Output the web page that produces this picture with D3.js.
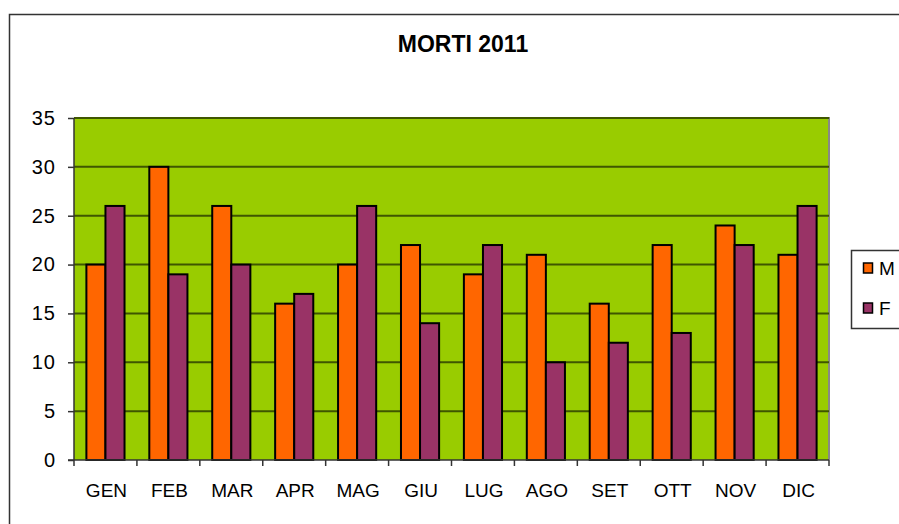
<!DOCTYPE html>
<html><head><meta charset="utf-8">
<script src="https://cdn.jsdelivr.net/npm/d3@7"></script>
<style>body{margin:0;background:#fff;}svg{display:block;font-family:Arial,"Liberation Sans",sans-serif;}</style>
</head><body>
<script>
const categories = ["GEN","FEB","MAR","APR","MAG","GIU","LUG","AGO","SET","OTT","NOV","DIC"];
const seriesNames = ["M","F"];
const valuesM = [20,30,26,16,20,22,19,21,16,22,24,21];
const valuesF = [26,19,20,17,26,14,22,10,12,13,22,26];
const yTicks = [0,5,10,15,20,25,30,35];
const title = "MORTI 2011";
const colors = {M:"#FF6600", F:"#993366"};

const W = 899, H = 524;
const svg = d3.select("body").append("svg").attr("width", W).attr("height", H);

// outer chart border
svg.append("path").attr("d","M9.5,530 V14.5 H905").attr("fill","none").attr("stroke","#333").attr("stroke-width",1.5);

const L = 74, R = 829, T = 118, B = 460;
const x = d3.scaleBand().domain(categories).range([L, R]).paddingInner(0).paddingOuter(0);
const y = d3.scaleLinear().domain([0,35]).range([B, T]);

// plot area
svg.append("rect").attr("x",L).attr("y",T).attr("width",R-L).attr("height",B-T).attr("fill","#99CC00");
svg.append("path").attr("d",`M${L},${T} H${R} V${B}`).attr("fill","none").attr("stroke","#888").attr("stroke-width",2);

// gridlines
svg.append("g").selectAll("line").data(yTicks.filter(d=>d>0)).join("line")
  .attr("x1",L).attr("x2",R).attr("y1",d=>y(d)).attr("y2",d=>y(d))
  .attr("stroke","#3f5600").attr("stroke-width",2);

// bars
const data = categories.map((c,i)=>({cat:c, M:valuesM[i], F:valuesF[i]}));
const bw = x.bandwidth()/3.3;
const x1 = d3.scaleBand().domain(seriesNames).range([0, 2*bw]);
const off = (x.bandwidth()-2*bw)/2;
const g = svg.append("g");
data.forEach(d=>{
  seriesNames.forEach(s=>{
    g.append("rect")
      .attr("x", x(d.cat)+off+x1(s))
      .attr("y", y(d[s]))
      .attr("width", x1.bandwidth())
      .attr("height", y(0)-y(d[s]))
      .attr("fill", colors[s]).attr("stroke","#000").attr("stroke-width",2);
  });
});

// y axis
const yAxis = d3.axisLeft(y).tickValues(yTicks).tickSize(6).tickPadding(12);
const ya = svg.append("g").attr("transform",`translate(${L},0)`).call(yAxis);
ya.select(".domain").attr("stroke","#333").attr("stroke-width",1.5).attr("d",`M-0,${T}V${B}`);
ya.selectAll(".tick line").attr("stroke","#333").attr("stroke-width",1.5);
ya.selectAll("text").attr("font-size",20).attr("letter-spacing","1px").attr("fill","#000")
  .attr("font-family","Arial, 'Liberation Sans', sans-serif");

// x axis
const xTickPos = categories.map(c=>x(c)).concat([R]);
const xa = svg.append("g");
xa.append("line").attr("x1",L-6).attr("x2",R).attr("y1",B).attr("y2",B).attr("stroke","#333").attr("stroke-width",1.5);
xa.selectAll("line.tk").data(xTickPos).join("line").attr("class","tk")
  .attr("x1",d=>d).attr("x2",d=>d).attr("y1",B).attr("y2",B+6).attr("stroke","#333").attr("stroke-width",1.5);
xa.selectAll("text").data(categories).join("text")
  .attr("x",d=>x(d)+x.bandwidth()/2+1).attr("y",497)
  .attr("text-anchor","middle").attr("font-size",19).attr("fill","#000").text(d=>d);

// title
svg.append("text").attr("x",463).attr("y",52).attr("text-anchor","middle")
  .attr("font-size",23).attr("font-weight","bold").text(title);

// legend
const lg = svg.append("g");
lg.append("rect").attr("x",851.5).attr("y",250.5).attr("width",60).attr("height",78)
  .attr("fill","#fff").attr("stroke","#333").attr("stroke-width",1.5);
seriesNames.forEach((s,i)=>{
  const cy = 268 + i*40;
  lg.append("rect").attr("x",863.5).attr("y",cy-5).attr("width",9).attr("height",10)
    .attr("fill",colors[s]).attr("stroke","#000").attr("stroke-width",1.5);
  lg.append("text").attr("x",879).attr("y",cy+7).attr("font-size",19).text(s);
});
</script>
</body></html>
